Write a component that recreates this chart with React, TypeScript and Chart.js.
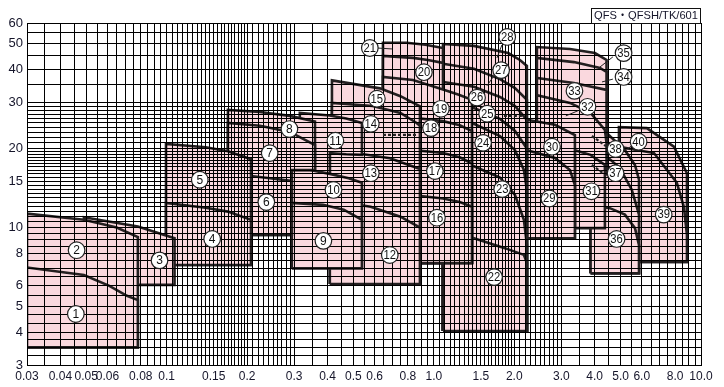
import React, { useEffect, useRef } from "react";
import { Chart, registerables } from "chart.js";

Chart.register(...registerables);

type P = [number, number]; // [flow, head]

// ---- axis ----
const xGridValues = [
  0.03, 0.035, 0.04, 0.045, 0.05, 0.055, 0.06, 0.065, 0.07, 0.075, 0.08, 0.085, 0.09, 0.095, 0.1,
  0.105, 0.11, 0.115, 0.12, 0.125, 0.13, 0.135, 0.14, 0.145, 0.15, 0.155, 0.16, 0.165, 0.17, 0.175,
  0.18, 0.185, 0.19, 0.195, 0.2, 0.21, 0.22, 0.23, 0.24, 0.25, 0.26, 0.27, 0.28, 0.29, 0.3, 0.35,
  0.4, 0.45, 0.5, 0.55, 0.6, 0.65, 0.7, 0.75, 0.8, 0.85, 0.9, 0.95, 1, 1.05, 1.1, 1.15, 1.2, 1.25,
  1.3, 1.35, 1.4, 1.45, 1.5, 1.55, 1.6, 1.65, 1.7, 1.75, 1.8, 1.85, 1.9, 1.95, 2, 2.1, 2.2, 2.3,
  2.4, 2.5, 2.6, 2.7, 2.8, 2.9, 3, 3.5, 4, 4.5, 5, 5.5, 6, 6.5, 7, 7.5, 8, 8.5, 9, 9.5, 10,
];
const xLabelValues = [0.03, 0.04, 0.05, 0.06, 0.08, 0.1, 0.15, 0.2, 0.3, 0.4, 0.5, 0.6, 0.8, 1, 1.5, 2, 3, 4, 5, 6, 8, 10];
const xLabelTexts = ["0.03", "0.04", "0.05", "0.06", "0.08", "0.1", "0.15", "0.2", "0.3", "0.4", "0.5", "0.6", "0.8", "1.0", "1.5", "2.0", "3.0", "4.0", "5.0", "6.0", "8.0", "10.0"];

const yGridValues = [
  3, 3.25, 3.5, 3.75, 4, 4.3, 4.65, 5, 5.5, 6, 6.5, 7, 7.5, 8, 8.5, 9, 9.5, 10, 10.5, 11, 11.5, 12,
  12.5, 13, 13.5, 14, 14.5, 15, 15.5, 16, 16.5, 17, 17.5, 18, 18.5, 19, 19.5, 20, 21, 22, 23, 24,
  25, 26, 27, 28, 29, 30, 35, 40, 45, 50, 55, 60,
];
const yLabelValues = [3, 4, 5, 6, 8, 10, 15, 20, 30, 40, 50, 60];
const yLabelTexts = ["3", "4", "5", "6", "8", "10", "15", "20", "30", "40", "50", "60"];

// ---- selection zones (flow, head); lower numbers are painted on top ----
const region1: P[] = [[0.03, 3.5], [0.03, 7.05], [0.049, 6.6], [0.061, 6.0], [0.071, 5.5], [0.078, 5.3], [0.078, 3.5]];
const region2: P[] = [[0.03, 3.5], [0.03, 11.3], [0.049, 10.7], [0.065, 10.0], [0.078, 9.2], [0.078, 3.5]];
const region3: P[] = [[0.049, 6.05], [0.049, 10.95], [0.078, 10.1], [0.107, 9.1], [0.107, 6.05]];
const region4: P[] = [[0.0994, 7.2], [0.0994, 12.4], [0.14, 11.9], [0.1695, 11.5], [0.2068, 10.7], [0.2068, 7.2]];
const region5: P[] = [[0.0994, 7.2], [0.0994, 20.8], [0.14, 20.2], [0.1695, 19.5], [0.2068, 18.2], [0.2068, 7.2]];
const region6: P[] = [[0.1695, 9.37], [0.1695, 15.85], [0.2068, 15.7], [0.2436, 15.4], [0.294, 15.05], [0.294, 9.37]];
const region7: P[] = [[0.1695, 9.37], [0.1695, 25.0], [0.2234, 24.4], [0.289, 23.1], [0.359, 20.6], [0.359, 16.56], [0.294, 16.56], [0.294, 9.37]];
const region8: P[] = [[0.1695, 16.56], [0.1695, 28.0], [0.2234, 27.5], [0.289, 26.6], [0.359, 25.3], [0.359, 16.56]];
const region9: P[] = [[0.294, 7.0], [0.294, 12.4], [0.385, 12.2], [0.46, 11.7], [0.538, 10.7], [0.538, 7.0]];
const region10: P[] = [[0.294, 7.0], [0.294, 16.56], [0.344, 16.56], [0.408, 16.0], [0.48, 15.4], [0.538, 14.8], [0.538, 7.0]];
const region11: P[] = [[0.315, 16.4], [0.315, 27.3], [0.408, 26.7], [0.47, 26.0], [0.538, 25.0], [0.538, 18.9], [0.47, 19.0], [0.408, 19.2], [0.408, 16.0]];
const region12: P[] = [[0.408, 6.1], [0.408, 12.5], [0.5, 12.3], [0.58, 12.0], [0.75, 11.0], [0.887, 10.0], [0.887, 6.1]];
const region13: P[] = [[0.408, 6.1], [0.408, 19.2], [0.53, 19.1], [0.685, 18.35], [0.887, 16.7], [0.887, 6.1]];
const region14: P[] = [[0.4155, 6.1], [0.4155, 29.8], [0.59, 29.0], [0.75, 27.3], [0.862, 25.0], [0.887, 24.4], [0.887, 6.1]];
const region15: P[] = [[0.4155, 6.1], [0.4155, 36.3], [0.6285, 33.85], [0.75, 31.6], [0.887, 28.9], [0.887, 6.1]];
const region16: P[] = [[0.887, 7.33], [0.887, 13.2], [1.082, 12.9], [1.25, 12.5], [1.389, 12.0], [1.389, 7.33]];
const region17: P[] = [[0.887, 7.33], [0.887, 19.6], [1.082, 19.2], [1.25, 18.5], [1.389, 17.5], [1.389, 7.33]];
const region18: P[] = [[0.887, 7.33], [0.887, 26.0], [1.082, 25.4], [1.25, 24.5], [1.389, 23.3], [1.389, 7.33]];
const region19: P[] = [[0.645, 7.33], [0.645, 37.4], [0.835, 36.4], [1.082, 33.5], [1.24, 32.0], [1.389, 30.6], [1.389, 7.33]];
const region20: P[] = [[0.645, 7.33], [0.645, 44.95], [0.835, 44.2], [0.95, 43.4], [1.082, 42.3], [1.082, 7.33]];
const region21: P[] = [[0.645, 7.33], [0.645, 50.5], [0.791, 50.5], [0.93, 49.6], [1.082, 48.2], [1.082, 7.33]];
const region22: P[] = [[1.082, 4.04], [1.082, 9.8], [1.413, 9.1], [1.845, 8.35], [2.173, 7.87], [2.23, 7.33], [2.23, 4.04]];
const region23: P[] = [[1.082, 4.04], [1.082, 18.1], [1.413, 17.1], [1.768, 15.5], [2.012, 13.3], [2.173, 10.7], [2.23, 8.6], [2.23, 4.04]];
const region24: P[] = [[1.082, 4.04], [1.082, 26.1], [1.413, 24.8], [1.768, 22.3], [2.012, 19.7], [2.173, 16.56], [2.23, 13.9], [2.23, 4.04]];
const region25: P[] = [[1.082, 4.04], [1.082, 30.0], [1.413, 28.5], [1.768, 25.9], [2.012, 23.3], [2.23, 20.0], [2.23, 4.04]];
const region26: P[] = [[1.082, 4.04], [1.082, 35.8], [1.413, 34.3], [1.768, 31.4], [2.012, 29.0], [2.23, 25.7], [2.23, 4.04]];
const region27: P[] = [[1.082, 4.04], [1.082, 42.0], [1.413, 40.2], [1.768, 36.7], [2.012, 33.95], [2.23, 30.6], [2.23, 4.04]];
const region28: P[] = [[1.082, 4.04], [1.082, 49.9], [1.413, 49.1], [1.898, 46.1], [2.1, 43.4], [2.23, 41.2], [2.23, 4.04]];
const region29: P[] = [[2.23, 9.1], [2.23, 19.7], [2.839, 18.4], [3.232, 16.56], [3.373, 14.5], [3.373, 9.1]];
const region30: P[] = [[2.23, 9.1], [2.23, 25.7], [2.839, 24.6], [3.373, 22.5], [3.373, 9.1]];
const region31: P[] = [[3.373, 9.95], [3.373, 19.7], [3.861, 18.9], [4.368, 17.3], [4.368, 9.95]];
const region32: P[] = [[2.431, 16], [2.431, 31.9], [3.232, 29.8], [3.861, 27.3], [4.368, 23.5], [4.43, 21], [4.43, 16]];
const region33: P[] = [[2.431, 16], [2.431, 37.1], [3.345, 35.5], [4.43, 33.4], [4.43, 16]];
const region34: P[] = [[2.431, 16], [2.431, 44.2], [3.345, 42.6], [4.186, 40.5], [4.43, 39.1], [4.43, 16]];
const region35: P[] = [[2.431, 16], [2.431, 48.6], [3.232, 47.8], [4.008, 46.1], [4.43, 43.4], [4.43, 16]];
const region36: P[] = [[3.861, 6.7], [3.861, 12.2], [4.56, 11.85], [5.19, 11.2], [5.66, 9.95], [5.86, 8.59], [5.86, 6.7]];
const region37: P[] = [[3.861, 6.7], [3.861, 19.7], [4.368, 18.9], [4.97, 16.85], [5.51, 13.9], [5.86, 11.2], [5.86, 6.7]];
const region38: P[] = [[3.861, 6.7], [3.861, 23.9], [4.43, 22.9], [5.19, 19.7], [5.66, 17.3], [5.86, 15.2], [5.86, 6.7]];
const region39: P[] = [[5.19, 7.4], [5.19, 20.1], [6.67, 19.2], [8.12, 14.8], [8.63, 11.97], [8.86, 9.37], [8.86, 7.4]];
const region40: P[] = [[4.93, 7.4], [4.93, 24.1], [6.27, 23.9], [7.92, 20.3], [8.86, 16.1], [8.86, 7.4]];

const regions: P[][] = [
  region1, region2, region3, region4, region5, region6, region7, region8, region9, region10,
  region11, region12, region13, region14, region15, region16, region17, region18, region19, region20,
  region21, region22, region23, region24, region25, region26, region27, region28, region29, region30,
  region31, region32, region33, region34, region35, region36, region37, region38, region39, region40,
];

// ---- circled numbers ----
const labelNumbers = [
  1, 2, 3, 4, 5, 6, 7, 8, 9, 10, 11, 12, 13, 14, 15, 16, 17, 18, 19, 20,
  21, 22, 23, 24, 25, 26, 27, 28, 29, 30, 31, 32, 33, 34, 35, 36, 37, 38, 39, 40,
];
const labelFlow = [
  0.0457, 0.046, 0.094, 0.148, 0.133, 0.236, 0.243, 0.288, 0.386, 0.421,
  0.428, 0.684, 0.581, 0.581, 0.612, 1.027, 1.009, 0.976, 1.063, 0.918,
  0.576, 1.681, 1.802, 1.529, 1.583, 1.451, 1.786, 1.882, 2.706, 2.77,
  3.89, 3.76, 3.36, 5.13, 5.13, 4.83, 4.79, 4.79, 7.25, 5.84,
];
const labelHead = [
  4.69, 8.2, 7.5, 9.05, 15.2, 12.5, 19.2, 23.7, 8.9, 13.9,
  21.4, 7.86, 16.1, 24.8, 30.9, 10.9, 16.4, 23.9, 28.3, 39.0,
  48.2, 6.48, 14.0, 21.0, 27.1, 31.2, 39.7, 53.1, 12.9, 20.3,
  13.74, 28.8, 33.1, 37.4, 46.1, 9.05, 16.1, 19.9, 11.2, 21.2,
];

// leader lines (solid) and dashed marks
const leaderLines: P[][] = [
  [[0.612, 48.2], [0.697, 47.8]],
  [[1.798, 49.5], [1.723, 44.2]],
  [[1.679, 37.8], [1.58, 34.6]],
  [[4.68, 44.6], [4.186, 40.8]],
  [[4.68, 36.7], [4.26, 35.8]],
  [[3.46, 27.8], [3.12, 26.6]],
  [[5.55, 20.6], [5.3, 19.9]],
];
const dashedLines: P[][] = [
  [[0.645, 22.5], [0.865, 22.5]],
  [[1.829, 26.6], [2.173, 26.6]],
  [[3.906, 22.3], [4.41, 20.4]],
  [[3.906, 17.3], [4.33, 16.0]],
];

const FILL = "#fad8de";
const EDGE = "#231f20";
const TEXT = "#15152a";

function near(a: number, b: number) {
  return Math.abs(a - b) < 1e-9 * Math.max(1, Math.abs(b));
}

export default function App() {
  const ref = useRef<HTMLCanvasElement | null>(null);

  useEffect(() => {
    document.body.style.margin = "0";
    const canvas = ref.current;
    if (!canvas) return;

    const toXY = (pts: P[]) => pts.map(([x, y]) => ({ x, y }));

    const circleSet: any = {
      data: labelFlow.map((x, i) => ({ x, y: labelHead[i] })),
      showLine: false,
      pointRadius: 8.3,
      pointHoverRadius: 8.3,
      pointBackgroundColor: "#ffffff",
      pointBorderColor: "#222",
      pointBorderWidth: 1.2,
      clip: false,
    };
    const leaderSets: any[] = leaderLines.map((l) => ({
      data: toXY(l), showLine: true, pointRadius: 0, borderColor: "#222", borderWidth: 1, fill: false,
    }));
    const dashSets: any[] = dashedLines.map((l) => ({
      data: toXY(l), showLine: true, pointRadius: 0, borderColor: "#222", borderWidth: 2.2, borderDash: [3, 2], fill: false,
    }));
    const regionSets: any[] = regions.map((r) => ({
      data: toXY([...r, r[0]]),
      showLine: true,
      pointRadius: 0,
      borderColor: EDGE,
      borderWidth: 2.6,
      backgroundColor: FILL,
      fill: "shape",
    }));

    const datasets = [circleSet, ...leaderSets, ...dashSets, ...regionSets];
    const topRegionIndex = 1 + leaderSets.length + dashSets.length;

    const gridAgain = {
      id: "gridAgain",
      afterDatasetDraw(chart: any, args: any) {
        if (args.index === topRegionIndex) {
          chart.scales.x.drawGrid(chart.chartArea);
          chart.scales.y.drawGrid(chart.chartArea);
        }
      },
    };

    const circleText = {
      id: "circleText",
      afterDatasetsDraw(chart: any) {
        const meta = chart.getDatasetMeta(0);
        const ctx = chart.ctx;
        ctx.save();
        ctx.fillStyle = "#111";
        ctx.font = "12px 'Liberation Sans', Arial, sans-serif";
        ctx.textAlign = "center";
        ctx.textBaseline = "middle";
        meta.data.forEach((pt: any, i: number) => {
          const t = String(labelNumbers[i]);
          ctx.fillText(t, pt.x, pt.y + 0.5, t.length > 1 ? 12.5 : 8);
        });
        ctx.restore();
      },
    };

    const titleBox = {
      id: "titleBox",
      afterDraw(chart: any) {
        const { ctx, chartArea } = chart;
        const w = 110, h = 15;
        ctx.save();
        ctx.fillStyle = "#fff";
        ctx.fillRect(chartArea.right - w, chartArea.top - h, w, h);
        ctx.strokeStyle = "#111";
        ctx.lineWidth = 1;
        ctx.strokeRect(chartArea.right - w + 0.5, chartArea.top - h + 0.5, w - 1, h);
        ctx.fillStyle = TEXT;
        ctx.font = "11.5px 'Liberation Sans', 'Noto Sans CJK JP', sans-serif";
        ctx.textAlign = "center";
        ctx.textBaseline = "middle";
        ctx.fillText("QFS・QFSH/TK/601", chartArea.right - w / 2, chartArea.top - h / 2 + 0.5, w - 6);
        ctx.restore();
      },
    };

    const chart = new Chart(canvas, {
      type: "scatter",
      data: { datasets },
      options: {
        animation: false,
        responsive: false,
        devicePixelRatio: 1,
        events: [],
        layout: { padding: { top: 23, right: 23, left: 0, bottom: 0 } },
        plugins: { legend: { display: false }, tooltip: { enabled: false } },
        scales: {
          x: {
            type: "logarithmic",
            min: 0.03,
            max: 10,
            afterBuildTicks: (s: any) => {
              s.ticks = xGridValues.map((v) => ({ value: v }));
            },
            afterFit: (s: any) => {
              s.height = 22;
            },
            ticks: {
              autoSkip: false,
              maxRotation: 0,
              minRotation: 0,
              padding: 4,
              color: TEXT,
              font: { family: "'Liberation Sans', Arial, sans-serif", size: 12 },
              callback: (v: any) => {
                const i = xLabelValues.findIndex((l) => near(Number(v), l));
                return i >= 0 ? xLabelTexts[i] : "";
              },
            },
            grid: { color: "#000", lineWidth: 1, drawTicks: false },
            border: { color: "#000", width: 1 },
          },
          y: {
            type: "logarithmic",
            min: 3,
            max: 60,
            afterBuildTicks: (s: any) => {
              s.ticks = yGridValues.map((v) => ({ value: v }));
            },
            afterFit: (s: any) => {
              s.width = 27;
            },
            ticks: {
              autoSkip: false,
              padding: 4,
              color: TEXT,
              font: { family: "'Liberation Sans', Arial, sans-serif", size: 13 },
              callback: (v: any) => {
                const i = yLabelValues.findIndex((l) => near(Number(v), l));
                return i >= 0 ? yLabelTexts[i] : "";
              },
            },
            grid: { color: "#000", lineWidth: 1, drawTicks: false },
            border: { color: "#000", width: 1 },
          },
        },
      } as any,
      plugins: [gridAgain, circleText, titleBox],
    });

    return () => chart.destroy();
  }, []);

  return (
    <div style={{ width: 724, height: 387 }}>
      <canvas ref={ref} width={724} height={387} style={{ display: "block", width: 724, height: 387 }} />
    </div>
  );
}
